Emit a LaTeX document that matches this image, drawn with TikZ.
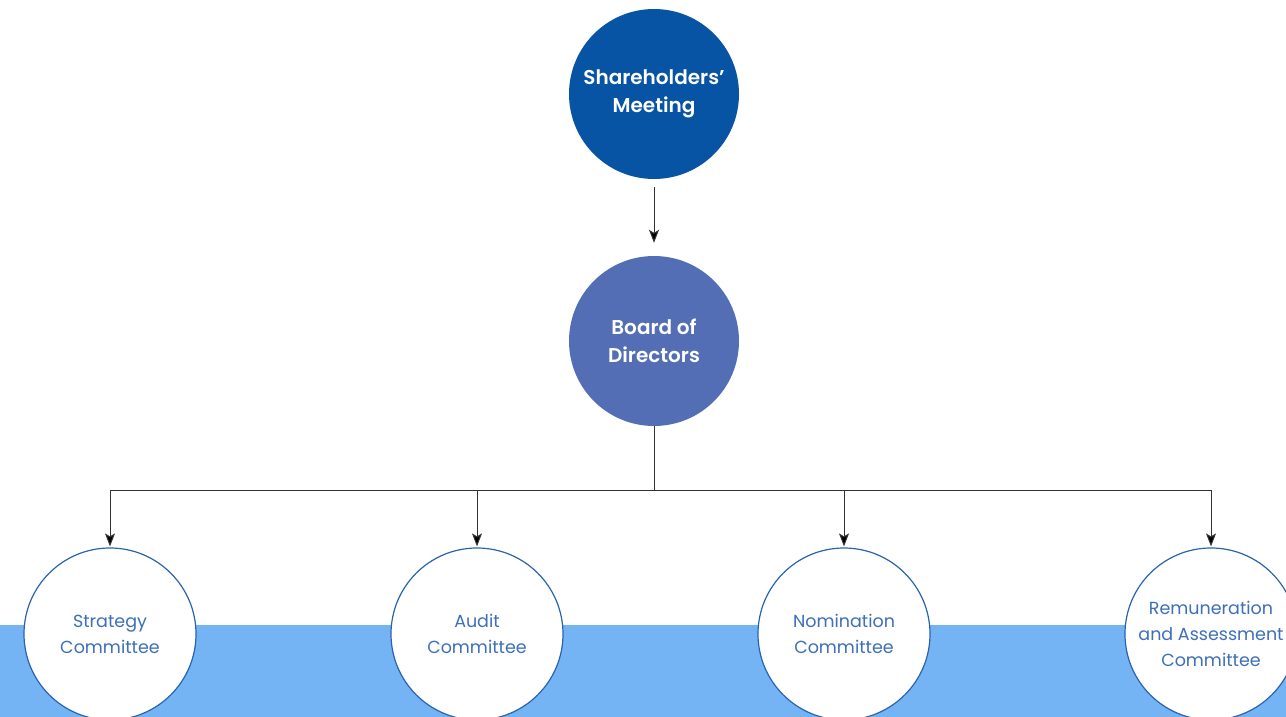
\documentclass[tikz,border=0pt]{standalone}
\usepackage{fontspec}
\setmainfont{Poppins}
\newfontfamily\medfont{Poppins SemiBold}
\usetikzlibrary{arrows.meta}
\definecolor{topblue}{HTML}{0753A4}
\definecolor{boardblue}{HTML}{536EB5}
\definecolor{band}{HTML}{74B3F4}
\definecolor{ring}{HTML}{2A63AE}
\definecolor{ctext}{HTML}{3D70B8}
\tikzset{
  bigc/.style={circle, minimum size=170pt, inner sep=0pt, text=white, align=center,
    font=\medfont\fontsize{20pt}{28pt}\selectfont},
  comc/.style={circle, minimum size=172pt, inner sep=0pt, draw=ring, line width=1.2pt, fill=white,
    text=ctext, align=center, font=\fontsize{17.5pt}{26pt}\selectfont},
  conn/.style={draw=black!80, line width=1pt, -{Stealth[length=13pt,width=10pt,inset=3pt,fill=black]}},
  plain/.style={draw=black!80, line width=1pt}
}
\begin{document}
\begin{tikzpicture}[x=1pt,y=-1pt]
\useasboundingbox (0,0) rectangle (1286,717);
\fill[band] (0,625) rectangle (1286,717);
\node[bigc, fill=topblue] (sm) at (654,94) {Shareholders’\\Meeting};
\node[bigc, fill=boardblue] (bd) at (654,341) {Board of\\Directors};
\node[comc] (s) at (110,634) {Strategy\\Committee};
\node[comc] (a) at (477,634) {Audit\\Committee};
\node[comc] (n) at (844,634) {Nomination\\Committee};
\node[comc] (r) at (1211,634) {Remuneration\\and Assessment\\Committee};
\coordinate (j) at (654,490);
\coordinate (smb) at (654,187);
\draw[conn] (smb) -- ([yshift=13pt]bd.north);
\draw[plain] (bd.south) -- (j);
\foreach \c in {s,a,n,r} {
  \draw[conn] (j) -| ([yshift=1pt]\c.north);
}
\end{tikzpicture}
\end{document}
